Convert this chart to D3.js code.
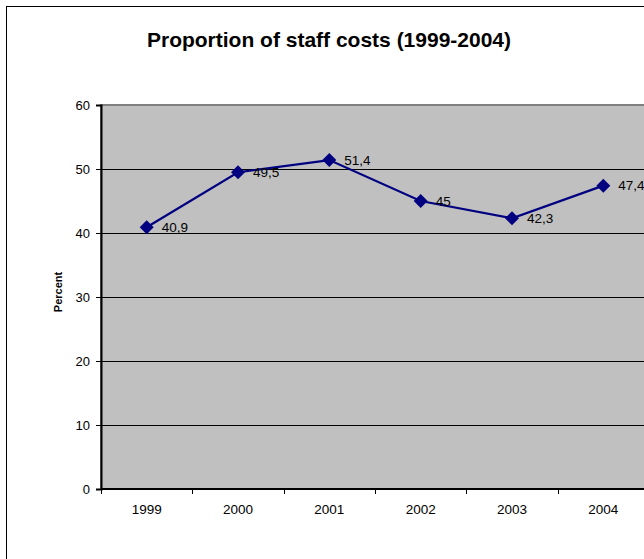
<!DOCTYPE html>
<html>
<head>
<meta charset="utf-8">
<script src="https://cdn.jsdelivr.net/npm/d3@7"></script>
<style>
  html, body { margin: 0; padding: 0; background: #fff; overflow: hidden; }
  svg { display: block; font-family: "Liberation Sans", Arial, sans-serif; }
</style>
</head>
<body>
<svg id="chart" width="644" height="559"></svg>
<script>
// Staff cost share by year
const years = ["1999", "2000", "2001", "2002", "2003", "2004"];
const percent = [40.9, 49.5, 51.4, 45, 42.3, 47.4];
const valueLabels = ["40,9", "49,5", "51,4", "45", "42,3", "47,4"];
const yTicks = [0, 10, 20, 30, 40, 50, 60];

const svg = d3.select("#chart");

// chart frame
svg.append("rect")
  .attr("x", 6.5).attr("y", 6.5)
  .attr("width", 700).attr("height", 700)
  .attr("fill", "#fff").attr("stroke", "#000").attr("stroke-width", 1);

const plot = { left: 101, top: 105, right: 649, bottom: 489 };

const x = d3.scaleBand().domain(years).range([plot.left, plot.right]);
const y = d3.scaleLinear().domain([0, 60]).range([plot.bottom, plot.top]);

// plot area
svg.append("rect")
  .attr("x", plot.left).attr("y", plot.top)
  .attr("width", plot.right - plot.left).attr("height", plot.bottom - plot.top)
  .attr("fill", "#c0c0c0").attr("stroke", "#808080").attr("stroke-width", 2);

// horizontal gridlines
svg.append("g")
  .selectAll("line")
  .data(yTicks.filter(t => t > 0 && t < 60))
  .join("line")
  .attr("x1", plot.left).attr("x2", plot.right)
  .attr("y1", d => Math.round(y(d)) + 0.5).attr("y2", d => Math.round(y(d)) + 0.5)
  .attr("stroke", "#000").attr("stroke-width", 1);

// y axis
const yAxis = svg.append("g")
  .attr("transform", `translate(${plot.left},0)`)
  .call(d3.axisLeft(y).tickValues(yTicks).tickSize(5).tickPadding(6).tickFormat(d3.format("d")));
yAxis.select(".domain").attr("stroke", "#000").attr("stroke-width", 2);
yAxis.selectAll(".tick line").attr("stroke", "#000");
yAxis.selectAll(".tick text")
  .attr("font-size", 13).attr("fill", "#000")
  .attr("font-family", "Liberation Sans, Arial, sans-serif");

// x axis with ticks between categories
const xAxisG = svg.append("g").attr("transform", `translate(0,${plot.bottom})`);
xAxisG.append("line")
  .attr("x1", plot.left).attr("x2", plot.right)
  .attr("y1", 0).attr("y2", 0)
  .attr("stroke", "#000").attr("stroke-width", 2);
const edges = years.map(d => x(d)).concat([x(years[years.length - 1]) + x.bandwidth()]);
xAxisG.selectAll("line.tk")
  .data(edges)
  .join("line")
  .attr("class", "tk")
  .attr("x1", d => Math.round(d) + 0.5).attr("x2", d => Math.round(d) + 0.5)
  .attr("y1", 0).attr("y2", 5)
  .attr("stroke", "#000");
xAxisG.selectAll("text")
  .data(years)
  .join("text")
  .attr("x", d => x(d) + x.bandwidth() / 2)
  .attr("y", 25)
  .attr("text-anchor", "middle")
  .attr("font-size", 13.5)
  .attr("fill", "#000")
  .text(d => d);

// series line
const pts = years.map((yr, i) => ({ yr, v: percent[i], label: valueLabels[i] }));
const cx = d => x(d.yr) + x.bandwidth() / 2;

svg.append("path")
  .datum(pts)
  .attr("fill", "none")
  .attr("stroke", "#000080")
  .attr("stroke-width", 2.2)
  .attr("d", d3.line().x(cx).y(d => y(d.v)));

// diamond markers
svg.append("g")
  .selectAll("path")
  .data(pts)
  .join("path")
  .attr("transform", d => `translate(${cx(d)},${y(d.v)})`)
  .attr("d", "M0,-7L7,0L0,7L-7,0Z")
  .attr("fill", "#000080");

// value labels
svg.append("g")
  .selectAll("text")
  .data(pts)
  .join("text")
  .attr("x", d => cx(d) + 15)
  .attr("y", d => y(d.v) + 4.5)
  .attr("font-size", 13.5)
  .attr("fill", "#000")
  .text(d => d.label);

// title
svg.append("text")
  .attr("x", 329).attr("y", 47)
  .attr("text-anchor", "middle")
  .attr("font-size", 21).attr("font-weight", "bold")
  .attr("fill", "#000")
  .text("Proportion of staff costs (1999-2004)");

// y axis title
svg.append("text")
  .attr("transform", "translate(62,292) rotate(-90)")
  .attr("text-anchor", "middle")
  .attr("font-size", 11).attr("font-weight", "bold")
  .attr("fill", "#000")
  .text("Percent");
</script>
</body>
</html>
